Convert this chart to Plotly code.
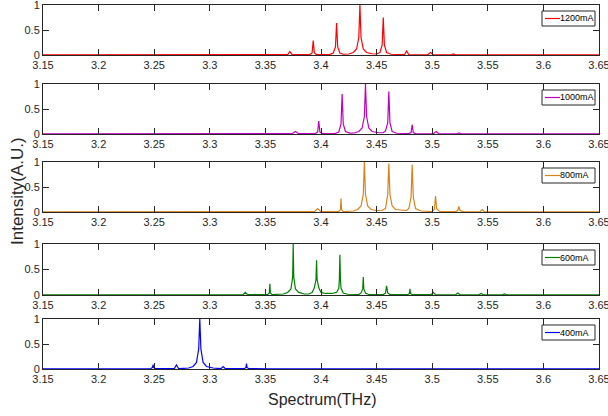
import plotly.graph_objects as go

# Emission spectra of the laser at five drive currents (frequency in THz, normalised intensity)
f_1200 = [3.15, 3.370, 3.372, 3.374,
          3.390, 3.392, 3.393, 3.394, 3.396,
          3.408, 3.411, 3.413, 3.414, 3.415, 3.417, 3.420,
          3.425, 3.429, 3.432, 3.434, 3.435, 3.436, 3.438, 3.441, 3.446,
          3.450, 3.453, 3.455, 3.456, 3.457, 3.459, 3.463,
          3.475, 3.477, 3.479,
          3.496, 3.4985, 3.501,
          3.517, 3.519, 3.521, 3.65]
i_1200 = [0.005, 0.006, 0.07, 0.006,
          0.008, 0.04, 0.29, 0.04, 0.008,
          0.012, 0.04, 0.16, 0.64, 0.16, 0.04, 0.015,
          0.02, 0.05, 0.12, 0.35, 1.0, 0.35, 0.12, 0.05, 0.025,
          0.02, 0.05, 0.2, 0.75, 0.2, 0.05, 0.015,
          0.006, 0.08, 0.006,
          0.005, 0.05, 0.005,
          0.005, 0.02, 0.005, 0.005]

f_1000 = [3.15, 3.353, 3.3554, 3.358,
          3.374, 3.377, 3.380,
          3.395, 3.397, 3.398, 3.399, 3.401,
          3.413, 3.416, 3.418, 3.419, 3.420, 3.422, 3.426,
          3.430, 3.434, 3.437, 3.439, 3.440, 3.441, 3.443, 3.446, 3.452,
          3.456, 3.458, 3.460, 3.461, 3.462, 3.464, 3.468,
          3.479, 3.481, 3.482, 3.483, 3.485,
          3.501, 3.5036, 3.506,
          3.522, 3.524, 3.526, 3.65]
i_1000 = [0.005, 0.005, 0.015, 0.005,
          0.006, 0.05, 0.006,
          0.008, 0.04, 0.26, 0.04, 0.008,
          0.012, 0.04, 0.2, 0.8, 0.2, 0.05, 0.018,
          0.02, 0.05, 0.12, 0.35, 1.0, 0.35, 0.12, 0.05, 0.025,
          0.025, 0.06, 0.22, 0.85, 0.22, 0.05, 0.015,
          0.007, 0.03, 0.19, 0.03, 0.007,
          0.005, 0.05, 0.005,
          0.005, 0.02, 0.005, 0.005]

f_800 = [3.15, 3.374, 3.376, 3.378,
         3.394, 3.397, 3.400,
         3.416, 3.4175, 3.418, 3.4185, 3.420,
         3.429, 3.433, 3.436, 3.438, 3.439, 3.440, 3.442, 3.445, 3.450,
         3.455, 3.458, 3.460, 3.461, 3.462, 3.464, 3.467, 3.473,
         3.477, 3.479, 3.481, 3.482, 3.483, 3.485, 3.490,
         3.500, 3.502, 3.503, 3.504, 3.507,
         3.521, 3.523, 3.524, 3.525, 3.528,
         3.543, 3.545, 3.547,
         3.564, 3.566, 3.568, 3.65]
i_800 = [0.005, 0.005, 0.02, 0.005,
         0.006, 0.07, 0.006,
         0.008, 0.05, 0.27, 0.05, 0.008,
         0.02, 0.05, 0.12, 0.35, 1.0, 0.35, 0.12, 0.05, 0.03,
         0.035, 0.07, 0.35, 0.97, 0.35, 0.12, 0.05, 0.03,
         0.03, 0.07, 0.3, 0.95, 0.3, 0.07, 0.02,
         0.01, 0.06, 0.32, 0.06, 0.01,
         0.007, 0.03, 0.11, 0.03, 0.007,
         0.005, 0.05, 0.005,
         0.005, 0.02, 0.005, 0.005]

f_600 = [3.15, 3.309, 3.311, 3.313,
         3.330, 3.332, 3.334,
         3.352, 3.3535, 3.354, 3.3545, 3.356,
         3.366, 3.370, 3.373, 3.3745, 3.375, 3.3755, 3.377, 3.380, 3.385,
         3.389, 3.392, 3.394, 3.3955, 3.396, 3.3965, 3.398, 3.400, 3.404,
         3.410, 3.414, 3.416, 3.4165, 3.417, 3.4175, 3.418, 3.420, 3.424,
         3.434, 3.436, 3.4375, 3.438, 3.4385, 3.440, 3.443,
         3.456, 3.458, 3.459, 3.460, 3.462,
         3.478, 3.4795, 3.480, 3.4805, 3.482,
         3.499, 3.501, 3.503,
         3.521, 3.523, 3.525,
         3.542, 3.544, 3.546,
         3.563, 3.565, 3.567,
         3.5845, 3.5865, 3.5885,
         3.6055, 3.6075, 3.6095,
         3.626, 3.628, 3.630, 3.65]
i_600 = [0.005, 0.005, 0.015, 0.005,
         0.006, 0.05, 0.006,
         0.008, 0.04, 0.22, 0.04, 0.008,
         0.02, 0.05, 0.12, 0.35, 1.0, 0.35, 0.12, 0.05, 0.02,
         0.02, 0.05, 0.14, 0.3, 0.68, 0.3, 0.14, 0.05, 0.03,
         0.03, 0.05, 0.13, 0.3, 0.79, 0.3, 0.13, 0.04, 0.015,
         0.01, 0.04, 0.12, 0.35, 0.12, 0.04, 0.01,
         0.008, 0.04, 0.18, 0.04, 0.008,
         0.007, 0.03, 0.12, 0.03, 0.007,
         0.006, 0.05, 0.006,
         0.005, 0.04, 0.005,
         0.005, 0.03, 0.005,
         0.005, 0.02, 0.005,
         0.005, 0.012, 0.005,
         0.005, 0.012, 0.005,
         0.005, 0.01, 0.005, 0.005]

f_400 = [3.15, 3.2043, 3.2063, 3.2083,
         3.225, 3.227, 3.229,
         3.247, 3.2485, 3.249, 3.2495, 3.251,
         3.268, 3.270, 3.272,
         3.281, 3.285, 3.288, 3.290, 3.291, 3.292, 3.294, 3.297, 3.303,
         3.310, 3.312, 3.314,
         3.331, 3.3325, 3.333, 3.3335, 3.335,
         3.352, 3.354, 3.356,
         3.373, 3.375, 3.377, 3.65]
i_400 = [0.005, 0.005, 0.012, 0.005,
         0.005, 0.012, 0.005,
         0.008, 0.03, 0.09, 0.03, 0.008,
         0.006, 0.08, 0.006,
         0.02, 0.05, 0.13, 0.4, 1.0, 0.4, 0.13, 0.05, 0.02,
         0.006, 0.05, 0.006,
         0.007, 0.03, 0.11, 0.03, 0.007,
         0.005, 0.012, 0.005,
         0.005, 0.01, 0.005, 0.005]

currents = ["1200mA", "1000mA", "800mA", "600mA", "400mA"]
colors = ["#ff0000", "#c000c0", "#d98319", "#008000", "#0000ff"]
freqs = [f_1200, f_1000, f_800, f_600, f_400]
intens = [i_1200, i_1000, i_800, i_600, i_400]

x_ticks = [3.15, 3.2, 3.25, 3.3, 3.35, 3.4, 3.45, 3.5, 3.55, 3.6, 3.65]
x_ticktext = ["3.15", "3.2", "3.25", "3.3", "3.35", "3.4", "3.45", "3.5", "3.55", "3.6", "3.65"]
y_ticks = [0, 0.5, 1]
y_ticktext = ["0", "0.5", "1"]

W, H = 608, 416
M_L, M_R = 43, 9
# panel top/bottom edges in pixels
panel_px = [(5, 55), (84, 134), (162, 212), (244, 295), (319, 369)]

FONT_FAMILY = "Liberation Sans, Arial, sans-serif"
TICK_FONT = dict(family=FONT_FAMILY, size=11, color="#262626")

fig = go.Figure()
layout = dict(
    width=W, height=H,
    margin=dict(l=M_L, r=M_R, t=0, b=0),
    paper_bgcolor="white", plot_bgcolor="white",
    showlegend=False,
)
shapes = []
annotations = []
pw = W - M_L - M_R

for k in range(5):
    n = k + 1
    xa = "x" if n == 1 else f"x{n}"
    ya = "y" if n == 1 else f"y{n}"
    fig.add_trace(go.Scatter(
        x=freqs[k], y=intens[k], mode="lines", name=currents[k],
        line=dict(color=colors[k], width=1.2),
        xaxis=xa, yaxis=ya, hoverinfo="skip",
    ))
    top, bot = panel_px[k]
    dom = [1 - bot / H, 1 - top / H]
    key = "" if n == 1 else str(n)
    axis_common = dict(
        ticks="inside", ticklen=6, tickwidth=1, tickcolor="#262626",
        showline=True, linecolor="#262626", linewidth=1, mirror="ticks",
        showgrid=False, zeroline=False, tickfont=TICK_FONT, automargin=False,
        ticklabeloverflow="allow",
    )
    layout["xaxis" + key] = dict(
        domain=[0, 1], anchor=ya, range=[3.15, 3.65],
        tickmode="array", tickvals=x_ticks, ticktext=x_ticktext, **axis_common,
    )
    layout["yaxis" + key] = dict(
        domain=dom, anchor=xa, range=[0, 1],
        tickmode="array", tickvals=y_ticks, ticktext=y_ticktext, **axis_common,
    )

    # legend box in the top-right corner of each panel
    ph = bot - top
    bx0, bx1 = (542 - M_L) / pw, (595 - M_L) / pw
    by1 = 1 - 6 / ph
    by0 = 1 - 21 / ph
    ymid = (by0 + by1) / 2
    shapes.append(dict(type="rect", xref=f"{xa} domain", yref=f"{ya} domain",
                       x0=bx0, x1=bx1, y0=by0, y1=by1,
                       line=dict(color="#262626", width=1), fillcolor="white", layer="above"))
    shapes.append(dict(type="line", xref=f"{xa} domain", yref=f"{ya} domain",
                       x0=(545 - M_L) / pw, x1=(560 - M_L) / pw, y0=ymid, y1=ymid,
                       line=dict(color=colors[k], width=1.2), layer="above"))
    annotations.append(dict(text=currents[k], xref=f"{xa} domain", yref=f"{ya} domain",
                            x=(560 - M_L) / pw, y=ymid, xanchor="left", yanchor="middle",
                            xshift=-2, showarrow=False,
                            font=dict(family=FONT_FAMILY, size=9, color="#000000")))

annotations.append(dict(text="Spectrum(THz)", xref="paper", yref="paper",
                        x=(322 - M_L) / pw, y=1 - 399 / H,
                        xanchor="center", yanchor="middle", showarrow=False,
                        font=dict(family=FONT_FAMILY, size=16, color="#262626")))
annotations.append(dict(text="Intensity(A.U.)", xref="paper", yref="paper",
                        x=(17 - M_L) / pw, y=1 - 191 / H,
                        xanchor="center", yanchor="middle", showarrow=False, textangle=-90,
                        font=dict(family=FONT_FAMILY, size=17, color="#262626")))

layout["shapes"] = shapes
layout["annotations"] = annotations
fig.update_layout(**layout)
fig.write_html("out.html")
